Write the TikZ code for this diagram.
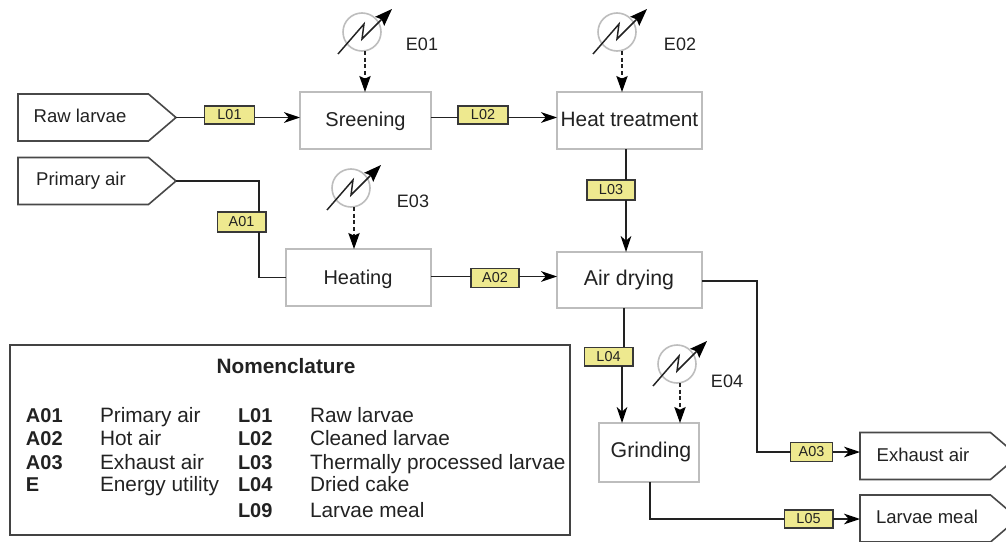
\documentclass[tikz,border=0pt]{standalone}
\usepackage{fontspec}
\setmainfont{Liberation Sans}
\usetikzlibrary{shapes.symbols,arrows.meta,positioning,calc}
\definecolor{boxgray}{HTML}{BDBDBD}
\definecolor{penline}{HTML}{484848}
\definecolor{tagfill}{HTML}{EEE98F}
\definecolor{inkc}{HTML}{222222}
\newcommand{\fs}[1]{\fontsize{#1}{#1}\selectfont}
\tikzset{
  x=0.75pt,y=-0.75pt,
  every node/.style={text=inkc,inner sep=0pt,outer sep=0pt},
  procbox/.style={draw=boxgray,line width=1.5pt,fill=white,anchor=north west},
  stream/.style={signal,signal to=east,signal pointer angle=81,draw=penline,line width=1.2pt,fill=white,
     minimum width=118.5pt,minimum height=35.2pt,anchor=west},
  streamlabel/.style={font=\fs{13.9}},
  tagbox/.style={draw=inkc!90,line width=1pt,fill=tagfill,font=\fs{10.8},minimum height=13.5pt},
  flow/.style={draw=inkc,line width=1.1pt},
  flowarrow/.style={flow,-{Stealth[length=12pt,width=8pt,inset=3.5pt,color=black]}},
  utilarrow/.style={draw=inkc,line width=0.9pt,densely dashed,-{Stealth[length=12pt,width=8.5pt,inset=2pt,color=black]}},
  hxcircle/.style={circle,draw=boxgray,line width=1.2pt,fill=white,minimum size=28.5pt},
  hxbolt/.style={draw=inkc,line width=1.1pt,-{Stealth[length=13pt,width=9.5pt,inset=2pt,color=black]}},
  utillabel/.style={font=\fs{13.5}},
  legendtext/.style={font=\fs{15.6},anchor=base west},
  legendkey/.style={font=\fs{15}\bfseries,anchor=base west},
}
\newcommand{\hxunit}[3]{%
  \node[hxcircle] (#1) at (#2,#3) {};
  \draw[hxbolt] ($(#1)+(-24,22)$) -- ($(#1)+(2,-8)$) -- ($(#1)+(0,7)$) -- ($(#1)+(30,-23)$);
}
\begin{document}
\begin{tikzpicture}
\useasboundingbox (0,0) rectangle (1006,542);
\clip (0,0) rectangle (1006,542);

% streams
\node[stream] (rawlarvae) at (18,117.5) {};
\node[stream] (primaryair) at (18,181) {};
\node[stream] (exhaustair) at (860,456) {};
\node[stream] (larvaemeal) at (860,518.5) {};
\node[streamlabel] (trawlarvae) at (80,116) {Raw larvae};
\node[streamlabel] (tprimaryair) at (81,181) {Primary air};
\node[streamlabel] (texhaustair) at (923,455) {Exhaust air};
\node[streamlabel] (tlarvaemeal) at (927,517) {Larvae meal};

% process boxes
\node[procbox,minimum width=98pt,minimum height=42.8pt] (sreening) at (300,92) {};
\node[procbox,minimum width=108.7pt,minimum height=42.8pt] (heattreat) at (557,92) {};
\node[procbox,minimum width=108.7pt,minimum height=42.8pt] (heating) at (286,249) {};
\node[procbox,minimum width=108.7pt,minimum height=42.2pt] (airdrying) at (557,252) {};
\node[procbox,minimum width=75pt,minimum height=44.2pt] (grinding) at (599,423) {};
\node[font=\fs{15}] (tsreening) at (365.5,121) {Sreening};
\node[font=\fs{15.6}] (theattreat) at (629.5,119) {Heat treatment};
\node[font=\fs{15}] (theating) at (358,279) {Heating};
\node[font=\fs{16}] (tairdrying) at (629,280) {Air drying};
\node[font=\fs{16}] (tgrinding) at (651,452) {Grinding};

% tags
\node[tagbox,minimum width=37.5pt] (L01) at (229.5,115) {L01};
\node[tagbox,minimum width=37.5pt] (L02) at (483,115) {L02};
\node[tagbox,minimum width=36pt,minimum height=15pt] (L03) at (611,190) {L03};
\node[tagbox,minimum width=36.5pt,minimum height=15pt] (A01) at (241.5,222) {A01};
\node[tagbox,minimum width=36pt,minimum height=14.5pt] (A02) at (495,278) {A02};
\node[tagbox,minimum width=36.5pt,minimum height=14pt] (L04) at (608.5,356.5) {L04};
\node[tagbox,minimum width=31.5pt,minimum height=14.5pt] (A03) at (811.5,452) {A03};
\node[tagbox,minimum width=36.5pt] (L05) at (808.5,519) {L05};

% connectors
\draw[flow] (rawlarvae.east) -- (rawlarvae.east -| L01.west);
\draw[flowarrow] (rawlarvae.east -| L01.east) -- (rawlarvae.east -| sreening.west);
\draw[flow] (rawlarvae.east -| sreening.east) -- (rawlarvae.east -| L02.west);
\draw[flowarrow] (rawlarvae.east -| L02.east) -- (rawlarvae.east -| heattreat.west);
\coordinate (a01x) at (259,0);
\draw[flow] (primaryair.east) -| (a01x |- A01.north);
\draw[flow] (a01x |- A01.south) |- (heating.west);
\coordinate (a02y) at (0,276.5);
\draw[flow] (heating.east |- a02y) -- (A02.west |- a02y);
\draw[flowarrow] (A02.east |- a02y) -- (airdrying.west |- a02y);
\coordinate (l03x) at (626,0);
\draw[flow] (l03x |- heattreat.south) -- (l03x |- L03.north);
\draw[flowarrow] (l03x |- L03.south) -- (l03x |- airdrying.north);
\coordinate (l04x) at (624,0);
\coordinate (l04xb) at (622,0);
\draw[flow] (l04x |- airdrying.south) -- (l04x |- L04.north);
\draw[flowarrow] (l04xb |- L04.south) -- (l04xb |- grinding.north);
\coordinate (a03y) at (757,281);
\draw[flow] (airdrying.east |- a03y) -- (a03y) |- (A03.west);
\draw[flowarrow] (A03.east) -- (exhaustair.west |- A03.east);
\coordinate (l05x) at (650,0);
\draw[flow] (l05x |- grinding.south) |- (L05.west);
\draw[flowarrow] (L05.east) -- (larvaemeal.west |- L05.east);

% heat exchangers
\hxunit{hx1}{362}{32}
\hxunit{hx2}{617}{32}
\hxunit{hx3}{351}{188}
\hxunit{hx4}{677}{364}
\coordinate (u1) at ($(hx1.south)+(3,0)$);
\coordinate (u2) at ($(hx2.south)+(5,0)$);
\coordinate (u3) at ($(hx3.south)+(3,0)$);
\coordinate (u4) at ($(hx4.south)+(3,0)$);
\draw[utilarrow] (u1) -- (u1 |- sreening.north);
\draw[utilarrow] (u2) -- (u2 |- heattreat.north);
\draw[utilarrow] (u3) -- (u3 |- heating.north);
\draw[utilarrow] (u4) -- (u4 |- grinding.north);
\node[utillabel] (E01) at (422,44) {E01};
\node[utillabel] (E02) at (680,44) {E02};
\node[utillabel] (E03) at (413,201) {E03};
\node[utillabel] (E04) at (727,381) {E04};

% nomenclature
\node[draw=inkc!85,line width=1pt,minimum width=420pt,minimum height=142.5pt,anchor=north west] (legend) at (10,345) {};
\node[font=\fs{15.6}\bfseries] (legtitle) at (286,366) {Nomenclature};
\node[legendkey] (ka1) at (26,422.5) {A01};
\node[legendtext] (va1) at (100,422.5) {Primary air};
\node[legendkey] (ka2) at (26,445) {A02};
\node[legendtext] (va2) at (100,445) {Hot air};
\node[legendkey] (ka3) at (26,469) {A03};
\node[legendtext] (va3) at (100,469) {Exhaust air};
\node[legendkey] (ke) at (26,491.5) {E};
\node[legendtext] (ve) at (100,491.5) {Energy utility};
\node[legendkey] (kl1) at (238,422.5) {L01};
\node[legendtext] (vl1) at (310,422.5) {Raw larvae};
\node[legendkey] (kl2) at (238,445) {L02};
\node[legendtext] (vl2) at (310,445) {Cleaned larvae};
\node[legendkey] (kl3) at (238,469) {L03};
\node[legendtext] (vl3) at (310,469) {Thermally processed larvae};
\node[legendkey] (kl4) at (238,491.5) {L04};
\node[legendtext] (vl4) at (310,491.5) {Dried cake};
\node[legendkey] (kl9) at (238,517) {L09};
\node[legendtext] (vl9) at (310,517) {Larvae meal};
\end{tikzpicture}
\end{document}
